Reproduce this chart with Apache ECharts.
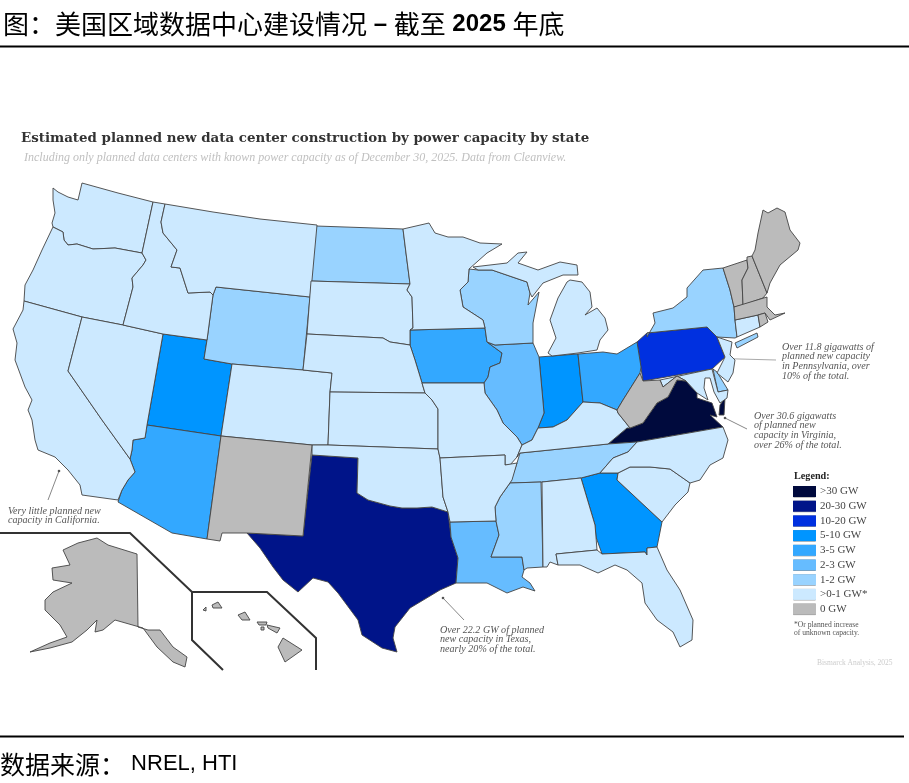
<!DOCTYPE html>
<html>
<head>
<meta charset="utf-8">
<style>
html, body { margin: 0; padding: 0; background: #fff; }
#main { width: 909px; height: 783px; }
</style>
<script src="https://cdn.jsdelivr.net/npm/echarts@6/dist/echarts.min.js"></script>
</head>
<body>
<div id="main"></div>
<script>
// 各州规划容量 (GW)，只能从色阶读出区间，取区间内估计值
let stateNames = ['Virginia', 'Texas', 'Pennsylvania', 'Utah', 'Indiana', 'Georgia', 'Iowa', 'Ohio', 'Arizona', 'Illinois', 'Louisiana',
    'North Dakota', 'Wyoming', 'Wisconsin', 'New York', 'Tennessee', 'Mississippi', 'Delaware',
    'Washington', 'Oregon', 'California', 'Nevada', 'Idaho', 'Montana', 'Colorado', 'South Dakota', 'Nebraska', 'Kansas', 'Oklahoma',
    'Minnesota', 'Missouri', 'Arkansas', 'Michigan', 'Kentucky', 'Alabama', 'Florida', 'South Carolina', 'North Carolina', 'Maryland', 'New Jersey', 'Connecticut',
    'New Mexico', 'West Virginia', 'Vermont', 'New Hampshire', 'Maine', 'Massachusetts', 'Rhode Island', 'Alaska', 'Hawaii'];
let stateCapacity = [30.6, 22.2, 11.8, 7, 7, 7, 4, 4, 4, 2.5, 2.5,
    1.5, 1.5, 1.5, 1.5, 1.5, 1.5, 1.5,
    0.5, 0.5, 0.5, 0.5, 0.5, 0.5, 0.5, 0.5, 0.5, 0.5, 0.5,
    0.5, 0.5, 0.5, 0.5, 0.5, 0.5, 0.5, 0.5, 0.5, 0.5, 0.5, 0.5,
    0, 0, 0, 0, 0, 0, 0, 0, 0];

let legendLabels = ['>30 GW', '20-30 GW', '10-20 GW', '5-10 GW', '3-5 GW', '2-3 GW', '1-2 GW', '>0-1 GW*', '0 GW'];
let legendLower = [30, 20, 10, 5, 3, 2, 1, 0, 0];
let legendUpper = [Infinity, 30, 20, 10, 5, 3, 2, 1, 0];
let legendColors = ['#000a3d', '#001489', '#0030e0', '#0095ff', '#33a8ff', '#66bcff', '#99d3ff', '#cce9ff', '#bbbbbb'];

// 底图轮廓，按图片像素描的，y 向下
let stateShapes = {
    'Washington': [[[53,188],[58,192],[68,197],[78,200],[82,183],[118,193],[153,202],[142,253],[115,248],[93,249],[77,244],[68,245],[64,240],[63,232],[53,227],[52,223],[55,213],[53,200]]],
    'Oregon': [[[53,227],[63,232],[64,240],[68,245],[77,244],[93,249],[115,248],[142,253],[146,260],[143,265],[132,278],[133,287],[123,325],[82,317],[24,301],[25,285],[33,270],[42,250],[52,229]]],
    'Idaho': [[[153,202],[165,204],[161,222],[163,233],[177,250],[171,267],[180,268],[188,293],[210,292],[213,295],[207,340],[163,334],[123,325],[133,287],[132,278],[143,265],[146,260],[142,253]]],
    'Montana': [[[165,204],[213,212],[260,219],[317,225],[312,280],[310,297],[216,287],[213,295],[210,292],[188,293],[180,268],[171,267],[177,250],[163,233],[161,222]]],
    'Wyoming': [[[216,287],[310,297],[303,370],[232,364],[204,359],[207,340],[213,295]]],
    'Utah': [[[163,334],[207,340],[204,359],[232,364],[221,436],[147,425]]],
    'Nevada': [[[82,317],[123,325],[163,334],[147,425],[145,438],[133,440],[132,450],[130,459],[102,420],[68,371]]],
    'California': [[[24,301],[82,317],[68,371],[102,420],[130,459],[135,472],[128,480],[122,490],[118,500],[82,495],[80,485],[68,470],[55,457],[38,450],[35,440],[32,420],[28,410],[32,400],[25,387],[15,360],[17,343],[13,329],[23,310]]],
    'Arizona': [[[147,425],[221,436],[207,539],[172,533],[118,502],[122,490],[128,480],[135,472],[130,459],[132,450],[133,440],[145,438]]],
    'Colorado': [[[232,364],[303,370],[332,373],[330,392],[328,445],[312,445],[221,436]]],
    'New Mexico': [[[221,436],[312,445],[303,536],[247,533],[222,533],[220,541],[207,539]]],
    'Texas': [[[312,455],[358,458],[357,493],[368,500],[390,506],[402,508],[417,508],[432,507],[448,512],[451,537],[458,558],[456,583],[440,590],[410,608],[395,627],[393,638],[397,652],[382,648],[362,635],[358,620],[338,593],[328,582],[313,578],[298,592],[283,580],[273,567],[260,548],[247,533],[303,536]]],
    'Oklahoma': [[[312,445],[328,445],[438,449],[440,458],[443,497],[448,512],[432,507],[417,508],[402,508],[390,506],[368,500],[357,493],[358,458],[312,455]]],
    'Kansas': [[[330,392],[425,393],[432,400],[438,409],[438,449],[328,445]]],
    'Nebraska': [[[307,334],[383,338],[390,342],[410,345],[415,360],[422,383],[425,393],[330,392],[332,373],[303,370]]],
    'South Dakota': [[[311,281],[410,284],[407,290],[412,297],[413,328],[410,330],[410,345],[390,342],[383,338],[307,334]]],
    'North Dakota': [[[316,226],[403,229],[406,253],[410,284],[311,281]]],
    'Minnesota': [[[403,229],[429,223],[435,233],[448,237],[463,237],[480,243],[502,244],[487,253],[469,269],[468,282],[460,290],[463,307],[483,320],[485,328],[410,330],[413,328],[412,297],[407,290],[410,284],[406,253]]],
    'Wisconsin': [[[469,269],[478,270],[492,270],[527,282],[530,293],[528,305],[539,292],[533,323],[533,343],[495,345],[487,342],[485,328],[483,320],[463,307],[460,290],[468,282]]],
    'Michigan': [[[[473,267],[507,263],[518,253],[527,252],[518,263],[538,270],[560,262],[577,265],[578,275],[563,275],[543,283],[532,297],[530,293],[527,282],[492,270],[478,270]]],
        [[[548,353],[556,338],[550,320],[558,298],[567,282],[570,280],[582,282],[590,292],[592,307],[585,315],[597,308],[605,318],[608,330],[600,340],[597,350],[578,353],[552,356]]]],
    'Illinois': [[[495,345],[533,343],[539,357],[544,413],[538,428],[532,440],[522,445],[517,437],[503,423],[497,410],[485,393],[484,383],[488,377],[490,367],[500,363],[502,353],[487,342]]],
    'Iowa': [[[410,330],[485,328],[487,342],[502,353],[500,363],[490,367],[488,377],[484,383],[422,383],[415,360],[410,345]]],
    'Missouri': [[[422,383],[484,383],[485,393],[497,410],[503,423],[517,437],[522,445],[517,457],[510,465],[505,465],[505,455],[440,458],[438,449],[438,409],[432,400],[425,393]]],
    'Arkansas': [[[440,458],[505,455],[505,465],[517,463],[512,480],[500,497],[495,507],[496,521],[450,522],[448,512],[443,497]]],
    'Louisiana': [[[450,522],[496,521],[499,535],[491,557],[522,557],[524,570],[522,577],[530,583],[535,591],[523,587],[507,593],[487,583],[456,583],[458,558],[451,537]]],
    'Mississippi': [[[510,483],[541,482],[543,567],[527,568],[524,570],[522,557],[491,557],[499,535],[496,521],[495,507],[500,497]]],
    'Tennessee': [[[517,463],[520,453],[540,451],[608,444],[637,442],[628,452],[613,458],[600,473],[581,478],[542,482],[510,483]]],
    'Kentucky': [[[538,428],[553,427],[567,420],[583,402],[600,403],[617,410],[618,413],[630,428],[627,428],[608,444],[540,451],[520,453],[517,457],[522,445],[532,440]]],
    'Virginia': [[[[677,380],[686,381],[697,393],[697,398],[712,403],[717,417],[710,415],[723,427],[637,442],[608,444],[627,428],[630,428],[643,423],[657,403],[668,397]]],
        [[[719,415],[720,405],[725,398],[724,415]]]],
    'West Virginia': [[[617,410],[623,400],[640,373],[643,381],[660,380],[663,387],[677,376],[686,381],[677,380],[668,397],[657,403],[643,423],[630,428],[618,413]]],
    'Ohio': [[[578,354],[603,352],[617,354],[637,342],[641,367],[640,373],[623,400],[617,410],[600,403],[583,402]]],
    'Indiana': [[[539,357],[578,354],[583,402],[567,420],[553,427],[538,428],[544,413]]],
    'Pennsylvania': [[[647,333],[707,327],[717,337],[725,357],[712,369],[643,381],[637,342]]],
    'New York': [[[[647,337],[655,323],[653,313],[673,308],[687,297],[687,288],[703,270],[723,268],[730,290],[734,307],[735,320],[737,337],[735,338],[717,337],[707,327],[647,333]]],
        [[[735,343],[757,333],[758,337],[737,348]]]],
    'New Jersey': [[[717,337],[732,342],[730,355],[735,360],[733,373],[728,382],[717,373],[725,357]]],
    'Delaware': [[[713,369],[717,372],[728,390],[718,392]]],
    'Maryland': [[[660,380],[712,369],[718,392],[728,390],[727,398],[720,403],[714,392],[710,378],[705,378],[704,388],[708,400],[697,393],[686,381],[677,376],[663,387]]],
    'Connecticut': [[[735,320],[758,315],[760,327],[737,337]]],
    'Rhode Island': [[[758,315],[765,313],[768,322],[760,327]]],
    'Massachusetts': [[[734,307],[767,297],[767,307],[775,315],[785,313],[770,320],[765,313],[758,315],[735,320]]],
    'Vermont': [[[723,268],[747,260],[748,268],[742,280],[743,305],[734,307],[730,290]]],
    'New Hampshire': [[[747,260],[747,257],[752,256],[767,293],[763,298],[743,305],[742,280],[748,268]]],
    'Maine': [[[752,256],[755,250],[758,233],[763,210],[768,213],[777,208],[785,212],[790,230],[800,243],[798,250],[780,265],[770,283],[767,293]]],
    'North Carolina': [[[637,442],[723,427],[728,440],[723,458],[710,465],[700,480],[690,483],[670,469],[650,467],[630,467],[618,473],[600,473],[613,458],[628,452]]],
    'South Carolina': [[[618,473],[630,467],[650,467],[670,469],[690,483],[688,492],[675,505],[662,522],[617,480]]],
    'Georgia': [[[581,478],[600,473],[618,473],[617,480],[662,522],[657,547],[647,548],[647,555],[645,552],[602,554],[596,537],[595,525]]],
    'Alabama': [[[542,482],[581,478],[595,525],[596,537],[597,550],[556,554],[558,565],[550,562],[547,567],[543,567]]],
    'Florida': [[[556,554],[597,550],[602,554],[645,552],[647,555],[647,548],[657,547],[667,570],[680,590],[693,620],[692,640],[680,647],[673,632],[657,620],[645,603],[642,583],[627,570],[615,565],[598,573],[580,565],[558,565]]],
    'Alaska': [[[63,550],[78,543],[97,538],[108,545],[137,554],[138,627],[148,630],[160,630],[173,647],[187,657],[185,667],[173,662],[157,647],[143,628],[115,620],[103,630],[95,632],[97,620],[87,630],[72,642],[50,648],[30,652],[50,643],[67,637],[60,625],[45,610],[45,600],[53,592],[72,583],[53,580],[52,568],[70,565]]],
    'Hawaii': [[[[283,638],[302,650],[285,662],[278,647]]], [[[267,625],[280,628],[277,633],[268,628]]], [[[238,615],[245,612],[250,620],[242,620]]],
        [[[212,605],[218,602],[222,608],[213,608]]], [[[203,610],[206,607],[206,611]]], [[[257,622],[267,622],[266,625],[259,625]]], [[[261,627],[264,627],[264,630],[261,630]]]]
};

function toFeature(name) {
    let shape = stateShapes[name];
    let multi = Array.isArray(shape[0][0][0]);
    let flip = function (ring) {
        return ring.map(function (p) { return [p[0], -p[1]]; });
    };
    return {
        type: 'Feature',
        properties: { name: name },
        geometry: multi
            ? { type: 'MultiPolygon', coordinates: shape.map(function (poly) { return poly.map(flip); }) }
            : { type: 'Polygon', coordinates: shape.map(flip) }
    };
}

function textEl(x, y, text, size, color, extra) {
    return {
        type: 'text',
        x: x,
        y: y,
        silent: true,
        style: Object.assign({
            text: text,
            fontFamily: 'Liberation Serif',
            fontSize: size,
            fill: color,
            lineHeight: 9.8
        }, extra || {})
    };
}

function lineEl(points, color, width) {
    return {
        type: 'polyline',
        silent: true,
        shape: { points: points },
        style: { stroke: color, lineWidth: width, fill: null }
    };
}

function dotEl(x, y, color) {
    return { type: 'circle', silent: true, shape: { cx: x, cy: y, r: 1.3 }, style: { fill: color } };
}

window.onload = function () {
    echarts.registerMap('usa', { type: 'FeatureCollection', features: stateNames.map(toFeature) });

    let myChart = echarts.init(document.getElementById('main'));

    let seriesData = [];
    for (let i = 0; i < stateNames.length; i++) {
        seriesData.push({ name: stateNames[i], value: stateCapacity[i] });
    }

    let pieces = [];
    for (let i = 0; i < legendLabels.length; i++) {
        if (legendUpper[i] === 0) {
            pieces.push({ value: 0, label: legendLabels[i], color: legendColors[i] });
        } else {
            pieces.push({ gt: legendLower[i], lte: legendUpper[i], label: legendLabels[i], color: legendColors[i] });
        }
    }

    let graphics = [
        lineEl([[0, 46.5], [909, 46.5]], '#000', 2),
        lineEl([[0, 736.5], [904, 736.5]], '#000', 2),
        {
            type: 'text', x: 3, y: 9, silent: true,
            style: {
                text: '{a|图：美国区域数据中心建设情况}{b| – }{a|截至}{b| 2025 }{a|年底}',
                rich: {
                    a: { fontFamily: 'Noto Sans CJK SC', fontSize: 26, fill: '#000', lineHeight: 30 },
                    b: { fontFamily: 'Liberation Sans', fontWeight: 'bold', fontSize: 24, fill: '#000', lineHeight: 30 }
                }
            }
        },
        {
            type: 'text', x: 0, y: 749, silent: true,
            style: {
                text: '{a|数据来源：}{b| NREL, HTI}',
                rich: {
                    a: { fontFamily: 'Noto Sans CJK SC', fontSize: 25, fill: '#000', lineHeight: 30 },
                    b: { fontFamily: 'Liberation Sans', fontSize: 22, fill: '#000', lineHeight: 30 }
                }
            }
        },
        textEl(21, 131, 'Estimated planned new data center construction by power capacity by state', 13.4, '#333', { fontFamily: 'DejaVu Serif', fontWeight: 'bold', lineHeight: 16 }),
        textEl(24, 152, 'Including only planned data centers with known power capacity as of December 30, 2025. Data from Cleanview.', 12, '#c0c0c0', { fontStyle: 'italic', lineHeight: 12 }),

        // 阿拉斯加、夏威夷的分隔框
        lineEl([[0, 533], [130, 533], [192, 592], [267, 592], [316, 638], [316, 670]], '#333', 2),
        lineEl([[192, 592], [192, 640], [223, 670]], '#333', 2),

        // 引线
        lineEl([[703, 358], [776, 360]], '#aaa', 1),
        lineEl([[703, 358], [722, 358.5]], '#222', 0.8),
        dotEl(703, 358, '#222'),
        lineEl([[725, 418], [747, 429]], '#888', 1),
        dotEl(725, 418, '#555'),
        lineEl([[443, 598], [464, 620]], '#888', 1),
        dotEl(443, 598, '#555'),
        lineEl([[59, 471], [48, 500]], '#888', 1),
        dotEl(59, 471, '#555'),

        textEl(782, 342, 'Over 11.8 gigawatts of\nplanned new capacity\nin Pennsylvania, over\n10% of the total.', 10.1, '#555', { fontStyle: 'italic' }),
        textEl(754, 411, 'Over 30.6 gigawatts\nof planned new\ncapacity in Virginia,\nover 26% of the total.', 10.1, '#555', { fontStyle: 'italic' }),
        textEl(8, 506, 'Very little planned new\ncapacity in California.', 10.1, '#555', { fontStyle: 'italic' }),
        textEl(440, 625, 'Over 22.2 GW of planned\nnew capacity in Texas,\nnearly 20% of the total.', 10.1, '#555', { fontStyle: 'italic' }),

        textEl(794, 471, 'Legend:', 10.2, '#222', { fontWeight: 'bold' }),
        textEl(794, 621, '*Or planned increase\nof unknown capacity.', 7.6, '#555', { lineHeight: 8 }),
        textEl(817, 658, 'Bismarck Analysis, 2025', 7.5, '#ccc')
    ];

    // 图例色块的灰边
    for (let i = 0; i < legendLabels.length; i++) {
        graphics.push({
            type: 'rect',
            silent: true,
            shape: { x: 793.5, y: 486.5 + i * 14.7, width: 22, height: 10.5 },
            style: { fill: null, stroke: '#888', lineWidth: 1 }
        });
    }

    let option = {
        animation: false,
        backgroundColor: '#fff',
        visualMap: {
            type: 'piecewise',
            show: true,
            seriesIndex: 0,
            left: 793,
            top: 486,
            padding: 0,
            orient: 'vertical',
            itemWidth: 23,
            itemHeight: 11,
            itemGap: 3.7,
            itemSymbol: 'rect',
            align: 'left',
            selectedMode: false,
            hoverLink: false,
            pieces: pieces,
            textGap: 4,
            textStyle: { fontFamily: 'Liberation Serif', fontSize: 11, color: '#444' }
        },
        series: [{
            type: 'map',
            map: 'usa',
            aspectScale: 1,
            left: 13,
            top: 183,
            width: 787,
            height: 484,
            roam: false,
            silent: true,
            label: { show: false },
            itemStyle: { borderColor: '#444', borderWidth: 0.9 },
            emphasis: { disabled: true },
            data: seriesData
        }],
        graphic: graphics
    };

    myChart.setOption(option);
};
</script>
</body>
</html>
